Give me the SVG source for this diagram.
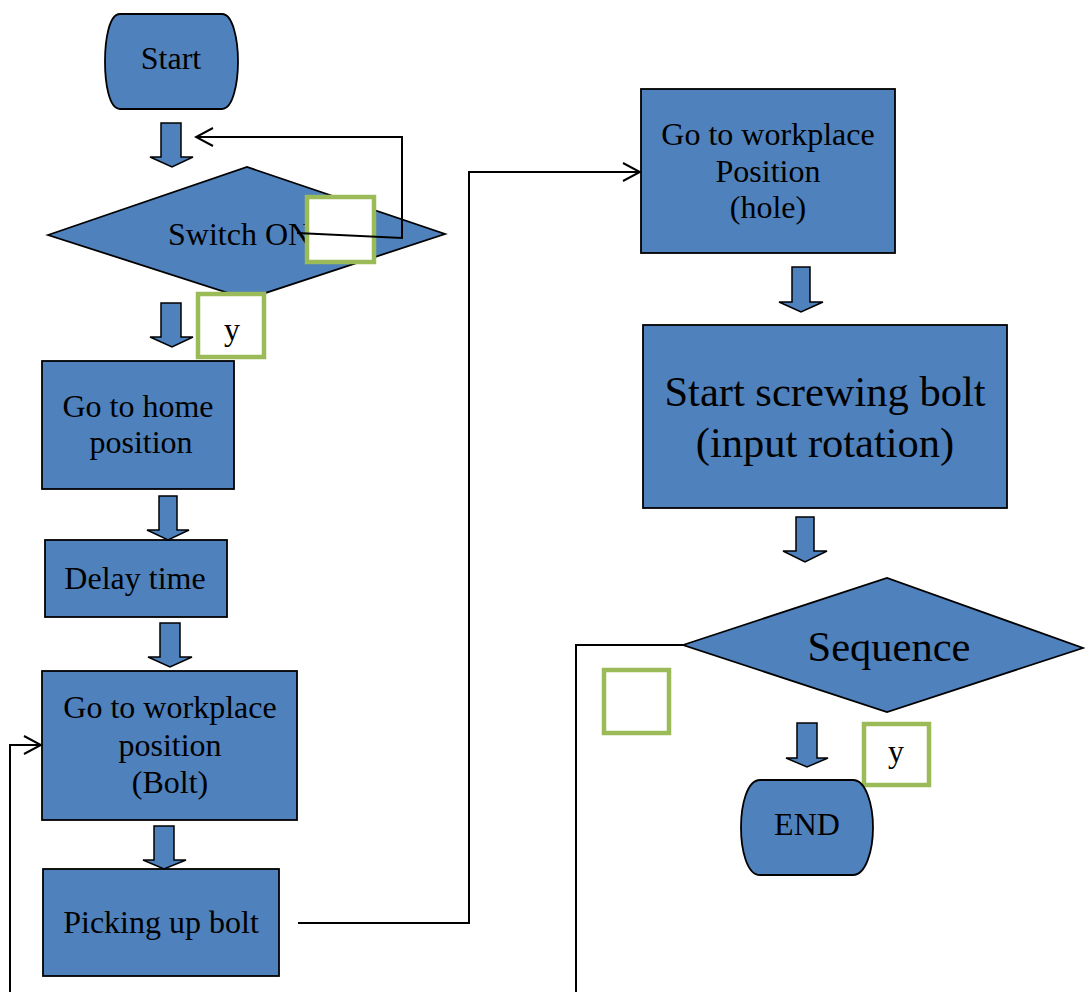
<svg xmlns="http://www.w3.org/2000/svg" width="1085" height="992" viewBox="0 0 1085 992">
<defs>
<style>
.n{fill:#4F81BD;stroke:#000;stroke-width:1.8}
.ba{fill:#4F81BD;stroke:#000;stroke-width:1.5;stroke-linejoin:miter}
.g{fill:#fff;stroke:#9BBB59;stroke-width:4.5}
.t{font-family:"Liberation Serif","Times New Roman",serif;font-size:32px;fill:#000;text-anchor:middle}
.L{font-size:42.5px}
.c{fill:none;stroke:#000;stroke-width:2}
</style>
<marker id="chev" markerWidth="20" markerHeight="20" refX="18" refY="10" orient="auto" markerUnits="userSpaceOnUse">
<path d="M1,1 L18,10 L1,19" fill="none" stroke="#000" stroke-width="2"/>
</marker>
</defs>
<rect width="1085" height="992" fill="#fff"/>

<g id="start">
<path class="n" d="M120,14 L222,14 C233,14 238,40 238,61.5 C238,83 233,109 222,109 L120,109 C109,109 105,83 105,61.5 C105,40 109,14 120,14 Z"/>
<text class="t" x="171" y="69">Start</text>
</g>

<g id="switch">
<polygon class="n" points="48,235 247,167 445,234 247,299"/>
<text class="t" x="168" y="245" style="text-anchor:start">Switch ON</text>
</g>
<g id="switch-no">
<rect class="g" x="307" y="197" width="67" height="65"/>
</g>
<g id="switch-yes">
<rect class="g" x="198" y="294" width="66" height="63"/>
<text class="t" x="232" y="340">y</text>
</g>

<g id="home">
<rect class="n" x="42" y="361" width="192" height="128"/>
<text class="t" x="138" y="417">Go to home</text>
<text class="t" x="141" y="453">position</text>
</g>

<g id="delay">
<rect class="n" x="45" y="540" width="182" height="77"/>
<text class="t" x="135" y="589">Delay time</text>
</g>

<g id="bolt-pos">
<rect class="n" x="42" y="671" width="255" height="149"/>
<text class="t" x="170" y="718">Go to workplace</text>
<text class="t" x="170" y="756">position</text>
<text class="t" x="170" y="793">(Bolt)</text>
</g>

<g id="pick">
<rect class="n" x="43" y="869" width="236" height="107"/>
<text class="t" x="161" y="933">Picking up bolt</text>
</g>

<g id="hole-pos">
<rect class="n" x="641" y="89" width="254" height="164"/>
<text class="t" x="768" y="145">Go to workplace</text>
<text class="t" x="768" y="182">Position</text>
<text class="t" x="768" y="218">(hole)</text>
</g>

<g id="screw">
<rect class="n" x="643" y="325" width="364" height="183"/>
<text class="t L" x="825" y="406">Start screwing bolt</text>
<text class="t L" x="825" y="457">(input rotation)</text>
</g>

<g id="sequence">
<polygon class="n" points="683,645 887,578 1083,648 887,712"/>
<text class="t L" x="889" y="661">Sequence</text>
</g>
<g id="seq-no">
<rect class="g" x="604" y="670" width="65" height="63"/>
</g>
<g id="seq-yes">
<rect class="g" x="864" y="724" width="65" height="61"/>
<text class="t" x="896" y="762">y</text>
</g>

<g id="end">
<path class="n" d="M760,780 L853,780 C866,780 873,805 873,827.5 C873,850 866,875 853,875 L760,875 C747,875 741,850 741,827.5 C741,805 747,780 760,780 Z"/>
<text class="t" x="807" y="835">END</text>
</g>

<g id="connectors">
<path class="ba" d="M161,123 L181,123 L181,157 L193,157 L172,167 L150,157 L161,157 Z"/>
<path class="ba" d="M161,303 L181,303 L181,337 L193,337 L172,347 L150,337 L161,337 Z"/>
<path class="ba" d="M159,496 L177,496 L177,530 L189,530 L168,540 L147,530 L159,530 Z"/>
<path class="ba" d="M160,623 L180,623 L180,657 L192,657 L170,667 L148,657 L160,657 Z"/>
<path class="ba" d="M154,826 L174,826 L174,860 L186,860 L164,869 L143,860 L154,860 Z"/>
<path class="ba" d="M792,267 L810,267 L810,302 L823,302 L801,312 L779,302 L792,302 Z"/>
<path class="ba" d="M796,517 L814,517 L814,551 L827,551 L805,562 L783,551 L796,551 Z"/>
<path class="ba" d="M797,723 L817,723 L817,758 L828,758 L807,767 L786,758 L797,758 Z"/>
<path class="c" d="M297,233 L402,238 L402,137 L196,137" marker-end="url(#chev)"/>
<path class="c" d="M10,992 L10,745 L41,745" marker-end="url(#chev)"/>
<path class="c" d="M298,923 L469,923 L469,172 L640,172" marker-end="url(#chev)"/>
<path class="c" d="M683,645 L576,645 L576,992"/>
</g>
</svg>
